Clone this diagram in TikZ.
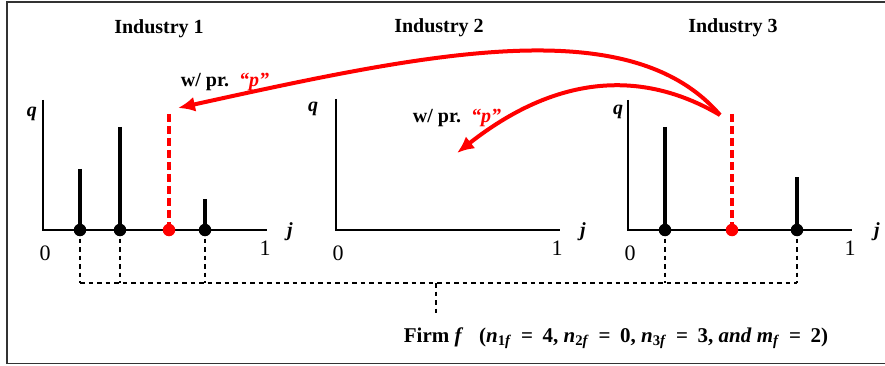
\documentclass[tikz,border=0pt]{standalone}
\usepackage{fontspec}
\setmainfont{Liberation Serif}
\usetikzlibrary{arrows.meta}
\newcommand{\bi}[1]{\textbf{\textit{#1}}}
\newcommand{\V}[2]{\bi{#1}\textsubscript{#2}}
\newcommand{\Eq}{\hspace{0.45em}=\hspace{0.45em}}
\begin{document}
\begin{tikzpicture}[x=1pt,y=-1pt,
  txt/.style={font=\fontsize{20}{22}\selectfont\bfseries, inner sep=0pt},
  num/.style={font=\fontsize{22}{24}\selectfont, inner sep=0pt},
  axlab/.style={font=\fontsize{20}{22}\selectfont\bfseries\itshape, inner sep=0pt},
  axis/.style={line width=1.4pt},
  stem/.style={line width=3.2pt},
  redstem/.style={line width=3.2pt, red, dash pattern=on 8pt off 4pt},
  dot/.style={circle, fill=black, minimum size=12.5pt, inner sep=0pt},
  reddot/.style={circle, fill=red, minimum size=12.5pt, inner sep=0pt},
  link/.style={line width=1.2pt, dash pattern=on 4.5pt off 4pt},
  bigarrow/.style={red, line width=4pt, -{Latex[length=17pt,width=15pt]}},
]
\useasboundingbox (0,0) rectangle (885,366);
\draw[line width=1.4pt, black!80] (7,2) rectangle (888,363.5);

% titles
\node[txt] (t1) at (159,29) {Industry 1};
\node[txt] (t2) at (439,28) {Industry 2};
\node[txt] (t3) at (733,28) {Industry 3};

% axes
\draw[axis] (43,100) -- (43,230) -- (267,230);
\draw[axis] (336,99) -- (336,230) -- (560,230);
\draw[axis] (628,100) -- (628,230) -- (852,230);

\node[axlab] (q1) at (32,114) {q};
\node[axlab] (q2) at (313,109) {q};
\node[axlab] (q3) at (618,112) {q};
\node[axlab] (j1) at (290,232) {j};
\node[axlab] (j2) at (583,232) {j};
\node[axlab] (j3) at (877,232) {j};
\node[num] (z1) at (45,253) {0};
\node[num] (z2) at (338,253) {0};
\node[num] (z3) at (630,253) {0};
\node[num] (o1) at (265,248) {1};
\node[num] (o2) at (557,248) {1};
\node[num] (o3) at (850,248) {1};

% stems industry 1
\coordinate (s11) at (80,169);
\coordinate (s12) at (120,127);
\coordinate (s1r) at (169,114);
\coordinate (s13) at (205,199);
\draw[stem] (s11) -- (80,230);
\draw[stem] (s12) -- (120,230);
\draw[redstem] (s1r) -- (169,230);
\draw[stem] (s13) -- (205,230);
\node[dot] (d11) at (80,230) {};
\node[dot] (d12) at (120,230) {};
\node[reddot] (d1r) at (169,230) {};
\node[dot] (d13) at (205,230) {};

% stems industry 3
\coordinate (s31) at (665,127);
\coordinate (s3r) at (732,114);
\coordinate (s32) at (797,177);
\draw[stem] (s31) -- (665,230);
\draw[redstem] (s3r) -- (732,230);
\draw[stem] (s32) -- (797,230);
\node[dot] (d31) at (665,230) {};
\node[reddot] (d3r) at (732,230) {};
\node[dot] (d32) at (797,230) {};

% firm links
\coordinate (b11) at (80,283);
\coordinate (b12) at (120,283);
\coordinate (b13) at (205,283);
\coordinate (b31) at (665,283);
\coordinate (b32) at (797,283);
\coordinate (bm) at (436,283);
\coordinate (bf) at (436,315);
\draw[link] (d11.center) -- (b11);
\draw[link] (d12.center) -- (b12);
\draw[link] (d13.center) -- (b13);
\draw[link] (d31.center) -- (b31);
\draw[link] (d32.center) -- (b32);
\draw[link] (b11) -- (b32);
\draw[link] (bm) -- (bf);

\node[txt, font=\fontsize{21}{23}\selectfont\bfseries] (firm) at (616,338)
  {Firm \bi{f}\ \ \ (\V{n}{1\textit{f}}\Eq4, \V{n}{2\textit{f}}\Eq0, \V{n}{3\textit{f}}\Eq3, \bi{and} \V{m}{\textit{f}}\Eq2)};

% price labels
\node[txt] (w1) at (225,82) {w/ pr.\ \ {\color{red}\itshape “p”}};
\node[txt] (w2) at (457,118) {w/ pr.\ \ {\color{red}\itshape “p”}};

% arrows
\coordinate (src) at (720,115);
\coordinate (tip1) at (178,108);
\coordinate (tip2) at (457,153);
\draw[bigarrow] (src) .. controls (630,10) and (428,53) .. (tip1);
\draw[bigarrow] (src) .. controls (640,68) and (555,76) .. (tip2);
\end{tikzpicture}
\end{document}
